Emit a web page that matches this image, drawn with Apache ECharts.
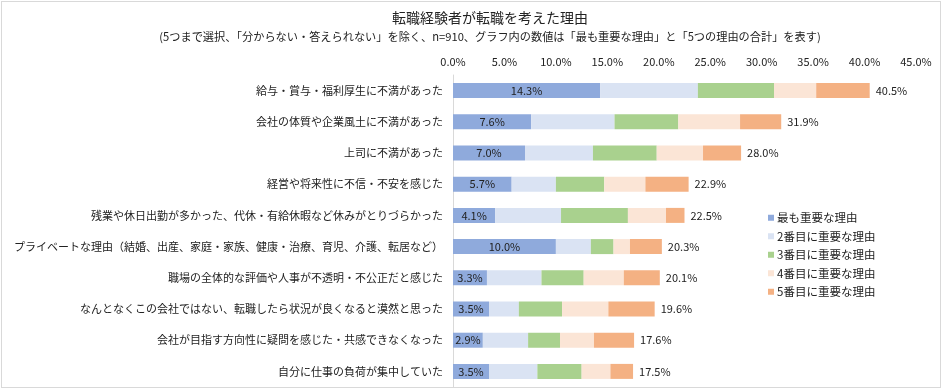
<!DOCTYPE html>
<html>
<head>
<meta charset="utf-8">
<script src="https://cdn.jsdelivr.net/npm/echarts@6/dist/echarts.min.js"></script>
<style>
html,body{margin:0;padding:0;background:#fff;}
#frame{position:absolute;left:1px;top:1px;width:940px;height:387px;border:1px solid #d9d9d9;box-sizing:border-box;}
#chart{position:absolute;left:0;top:0;width:945px;height:392px;}
</style>
</head>
<body>
<div id="frame"></div>
<div id="chart"></div>
<script>
const categories = [
  "給与・賞与・福利厚生に不満があった",
  "会社の体質や企業風土に不満があった",
  "上司に不満があった",
  "経営や将来性に不信・不安を感じた",
  "残業や休日出勤が多かった、代休・有給休暇など休みがとりづらかった",
  "プライベートな理由（結婚、出産、家庭・家族、健康・治療、育児、介護、転居など）",
  "職場の全体的な評価や人事が不透明・不公正だと感じた",
  "なんとなくこの会社ではない、転職したら状況が良くなると漠然と思った",
  "会社が目指す方向性に疑問を感じた・共感できなくなった",
  "自分に仕事の負荷が集中していた"
];
const seriesNames = ["最も重要な理由","2番目に重要な理由","3番目に重要な理由","4番目に重要な理由","5番目に重要な理由"];
const rank1 = [14.3, 7.6, 7.0, 5.7, 4.1, 10.0, 3.3, 3.5, 2.9, 3.5];
const rank2 = [9.5, 8.1, 6.6, 4.3, 6.4, 3.4, 5.3, 2.9, 4.4, 4.7];
const rank3 = [7.4, 6.2, 6.2, 4.7, 6.5, 2.2, 4.1, 4.2, 3.1, 4.3];
const rank4 = [4.1, 6.0, 4.5, 4.0, 3.7, 1.6, 3.9, 4.5, 3.3, 2.8];
const rank5 = [5.2, 4.0, 3.7, 4.2, 1.8, 3.1, 3.5, 4.5, 3.9, 2.2];
const totals = [40.5, 31.9, 28.0, 22.9, 22.5, 20.3, 20.1, 19.6, 17.6, 17.5];
const xTicks = {min: 0, max: 45, interval: 5};

const colors = ["#8faadc","#dae3f3","#a9d18e","#fbe5d6","#f4b183"];
const FONT = "'Noto Sans CJK JP', 'Noto Sans', sans-serif";
const allData = [rank1, rank2, rank3, rank4, rank5];

const series = allData.map((d, i) => {
  const s = {
    name: seriesNames[i],
    type: 'bar',
    stack: 'total',
    barWidth: 15,
    data: d,
    itemStyle: {color: colors[i]},
    emphasis: {disabled: true}
  };
  if (i === 0) {
    s.label = {show: true, position: 'inside', fontSize: 11, color: '#222', fontFamily: FONT,
      formatter: p => p.value.toFixed(1) + '%'};
  }
  if (i === 4) {
    s.label = {show: true, position: 'right', distance: 6, fontSize: 11, color: '#222', fontFamily: FONT,
      formatter: p => totals[p.dataIndex].toFixed(1) + '%'};
  }
  return s;
});

const chart = echarts.init(document.getElementById('chart'), null, {renderer: 'canvas'});
chart.setOption({
  animation: false,
  color: colors,
  textStyle: {fontFamily: FONT},
  title: {
    text: '転職経験者が転職を考えた理由',
    subtext: '(5つまで選択、「分からない・答えられない」を除く、n=910、グラフ内の数値は「最も重要な理由」と「5つの理由の合計」を表す)',
    left: 485, textAlign: 'center', top: 6, itemGap: 6,
    textStyle: {fontSize: 14, fontWeight: 'normal', color: '#222', fontFamily: FONT},
    subtextStyle: {fontSize: 11.2, color: '#222', fontFamily: FONT}
  },
  legend: {
    orient: 'vertical',
    left: 763, top: 207,
    itemWidth: 6, itemHeight: 6, itemGap: 7,
    icon: 'rect',
    textStyle: {fontSize: 11.5, color: '#222', fontFamily: FONT, padding: [0,0,0,-2]},
    data: seriesNames
  },
  grid: {left: 453, right: 29, top: 75, bottom: 5, containLabel: false, outerBoundsMode: 'none'},
  xAxis: {
    type: 'value', position: 'top',
    min: xTicks.min, max: xTicks.max, interval: xTicks.interval,
    axisLine: {show: false}, axisTick: {show: false},
    splitLine: {show: false},
    axisLabel: {fontSize: 11, color: '#222', fontFamily: FONT, margin: 8,
      formatter: v => v.toFixed(1) + '%'}
  },
  yAxis: {
    type: 'category', inverse: true, data: categories,
    axisLine: {show: true, lineStyle: {color: '#d9d9d9'}},
    axisTick: {show: false},
    axisLabel: {fontSize: 11, color: '#222', fontFamily: FONT, margin: 10}
  },
  series: series
});
</script>
</body>
</html>
